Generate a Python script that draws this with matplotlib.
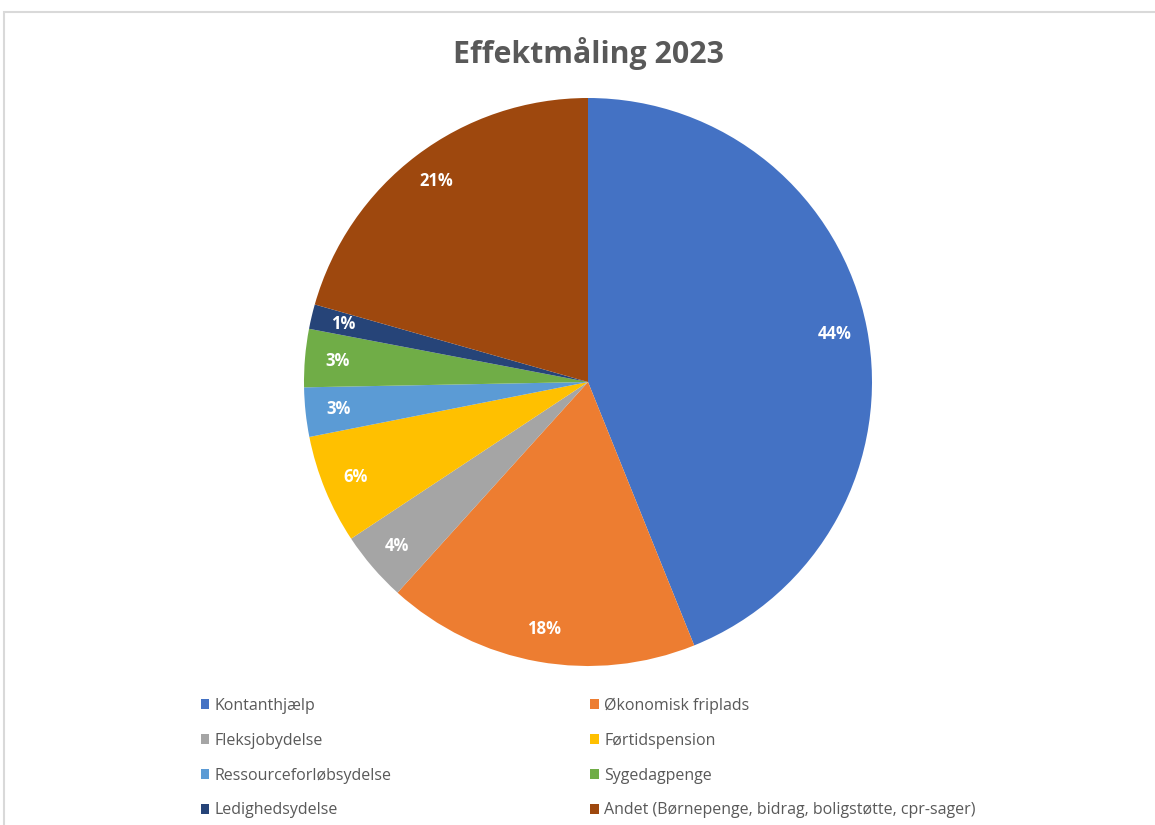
import matplotlib
matplotlib.use("Agg")
import matplotlib.pyplot as plt
from matplotlib.patches import Rectangle

plt.rcParams['font.family'] = ['Open Sans', 'DejaVu Sans']

# data (shares in percent)
categories = ["Kontanthjælp", "Økonomisk friplads", "Fleksjobydelse", "Førtidspension",
              "Ressourceforløbsydelse", "Sygedagpenge", "Ledighedsydelse",
              "Andet (Børnepenge, bidrag, boligstøtte, cpr-sager)"]
shares = [43.9, 17.8, 4.0, 6.2, 2.8, 3.3, 1.4, 20.6]
colors = ["#4472C4", "#ED7D31", "#A5A5A5", "#FFC000", "#5B9BD5", "#70AD47", "#264478", "#9E480E"]
title = "Effektmåling 2023"

W, H = 1155, 825
fig = plt.figure(figsize=(W / 100, H / 100), dpi=100)
fig.patch.set_facecolor("white")

# chart frame
fig.add_artist(Rectangle((4 / W, -0.01), 1.02, (H - 12) / H + 0.01, transform=fig.transFigure,
                         facecolor="none", edgecolor="#d9d9d9", lw=1.5))

cx, cy, r = 588, 382, 284
ax = fig.add_axes([(cx - r) / W, (H - cy - r) / H, 2 * r / W, 2 * r / H])
wedges, texts, autotexts = ax.pie(shares, colors=colors, startangle=90, counterclock=False,
                                  autopct=lambda p: f"{p:.0f}%", pctdistance=0.885,
                                  wedgeprops=dict(linewidth=0),
                                  textprops=dict(color="white", fontsize=12, fontweight="bold"))
ax.set_xlim(-1, 1)
ax.set_ylim(-1, 1)
ax.set_aspect("equal")

fig.text(cx / W, (H - 53) / H, title, ha="center", va="center", fontsize=21.8,
         fontweight="bold", color="#595959")

# legend laid out row by row like the original
order = [0, 2, 4, 6, 1, 3, 5, 7]
leg = fig.legend([wedges[i] for i in order], [categories[i] for i in order],
                 loc="upper left", bbox_to_anchor=(195 / W, (H - 692) / H), ncol=2,
                 frameon=True, facecolor="white", edgecolor="none", framealpha=1,
                 fontsize=11.5, handlelength=0.55, handleheight=0.55, handletextpad=0.35,
                 labelspacing=1.18, columnspacing=12.4, borderaxespad=0, borderpad=0.35)
for t in leg.get_texts():
    t.set_color("#595959")

fig.savefig("out.png", dpi=100)
